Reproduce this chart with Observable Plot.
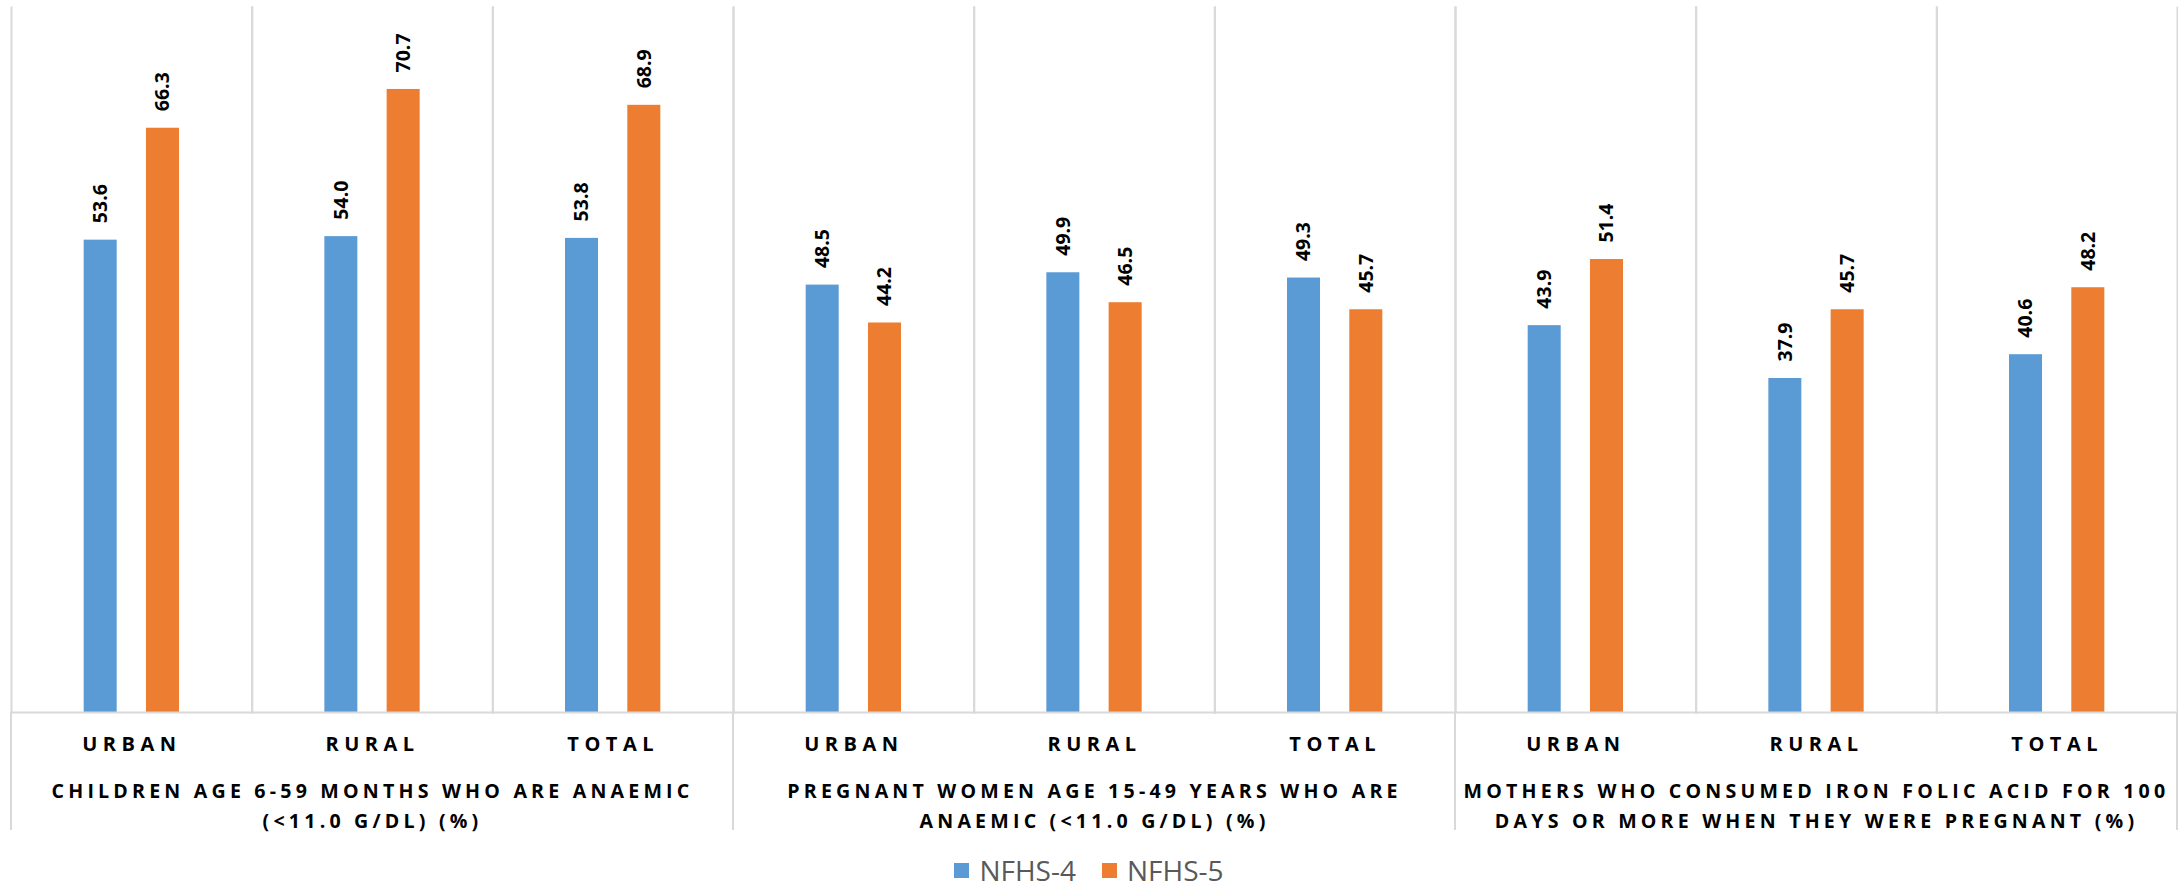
<!DOCTYPE html>
<html>
<head>
<meta charset="utf-8">
<script src="https://cdn.jsdelivr.net/npm/d3@7"></script>
<script src="https://cdn.jsdelivr.net/npm/@observablehq/plot@0.6"></script>
<style>
  html, body { margin: 0; padding: 0; background: #fff; overflow: hidden; }
  #chart { position: relative; width: 2178px; height: 883px; font-family: "Open Sans", sans-serif; }
  .legend-box {
    position: absolute; left: 0; top: 857px; width: 2178px; height: 26px;
    display: flex; justify-content: center; align-items: center;
    font-family: "Open Sans", sans-serif; font-size: 28px; line-height: 26px; color: #595959;
  }
  .legend-item { display: inline-flex; align-items: center; margin-right: 26px; height: 26px; }
  .legend-item:last-child { margin-right: 0; }
  .legend-swatch { width: 15px; height: 15px; margin-right: 10px; display: inline-block; }
</style>
</head>
<body>
<div id="chart"></div>
<script>
// Indicators (each split into urban / rural / total), NFHS-4 vs NFHS-5
const indicators = [
  "CHILDREN AGE 6-59 MONTHS WHO ARE ANAEMIC\n(<11.0 G/DL) (%)",
  "PREGNANT WOMEN AGE 15-49 YEARS WHO ARE\nANAEMIC (<11.0 G/DL) (%)",
  "MOTHERS WHO CONSUMED IRON FOLIC ACID FOR 100\nDAYS OR MORE WHEN THEY WERE PREGNANT (%)"
];
const places = ["URBAN", "RURAL", "TOTAL"];
const series = ["NFHS-4", "NFHS-5"];
const nfhs4 = [53.6, 54.0, 53.8, 48.5, 49.9, 49.3, 43.9, 37.9, 40.6];
const nfhs5 = [66.3, 70.7, 68.9, 44.2, 46.5, 45.7, 51.4, 45.7, 48.2];
const colors = ["#5B9BD5", "#ED7D31"];

// One facet per indicator × place
const cells = [];
indicators.forEach((ind, i) => places.forEach((p, j) => cells.push({key: `${i}|${p}`, indicator: i, place: p})));
const keys = cells.map(c => c.key);

const rows = [];
cells.forEach((c, k) => {
  rows.push({key: c.key, series: series[0], value: nfhs4[k]});
  rows.push({key: c.key, series: series[1], value: nfhs5[k]});
});

// Indicator titles sit under the middle place of each group
const titles = indicators.map((label, i) => ({key: `${i}|${places[1]}`, label}));

const grid = "#d9d9d9";
const placeSpacing = 5.5;
const titleSpacing = 4.2;

const plot = Plot.plot({
  width: 2178,
  height: 855,
  marginTop: 7,
  marginBottom: 143,
  marginLeft: 11,
  marginRight: 1,
  style: {fontFamily: "'Open Sans', sans-serif", color: "#000"},
  fx: {domain: keys, padding: 0, round: false, axis: null},
  x: {domain: series, paddingInner: 0.47, paddingOuter: 1.1666, round: false, axis: null},
  y: {domain: [0, 80], axis: null},
  color: {domain: series, range: colors},
  marks: [
    Plot.frame({anchor: "left", stroke: grid, strokeWidth: 2}),
    Plot.frame({anchor: "right", stroke: grid, strokeWidth: 2}),
    Plot.barY(rows, {fx: "key", x: "series", y: "value", fill: "series"}),
    Plot.frame({anchor: "bottom", stroke: grid, strokeWidth: 2}),
    Plot.text(rows, {
      fx: "key", x: "series", y: "value",
      text: d => d.value.toFixed(1),
      rotate: -90, textAnchor: "start", dy: -17,
      fontSize: 19.5, fontWeight: "bold", fill: "#000"
    }),
    Plot.text(cells, {
      fx: "key", text: "place", frameAnchor: "bottom", lineAnchor: "top",
      dy: 24, fontSize: 20, fontWeight: "bold", fill: "#000"
    }),
    Plot.text(titles, {
      fx: "key", text: "label", frameAnchor: "bottom", lineAnchor: "top",
      dy: 64, lineHeight: 1.55, fontSize: 19.6, fontWeight: "bold", fill: "#000"
    })
  ]
});

// Spaced-out capitals for the place and indicator labels
const firstLines = indicators.map(s => s.split("\n")[0]);
d3.select(plot).selectAll("text").each(function () {
  const t = this.textContent;
  if (places.includes(t)) this.style.letterSpacing = `${placeSpacing}px`;
  else if (firstLines.some(f => t.startsWith(f))) this.style.letterSpacing = `${titleSpacing}px`;
});

// Indicator dividers run down through the label area
const fx = plot.scale("fx");
const y = plot.scale("y");
const edges = indicators.map((_, i) => fx.apply(`${i}|${places[0]}`));
edges.push(fx.apply(keys[keys.length - 1]) + fx.bandwidth);
d3.select(plot).append("g").attr("aria-label", "dividers")
  .selectAll("line").data(edges).join("line")
  .attr("x1", d => d).attr("x2", d => d)
  .attr("y1", y.apply(0)).attr("y2", 830)
  .attr("stroke", grid).attr("stroke-width", 2);

// Series legend, centred below the chart, coloured by the plot's color scale
const color = plot.scale("color");
const root = document.getElementById("chart");
const box = d3.create("div").attr("class", "legend-box");
const items = box.selectAll("span.legend-item").data(series).join("span").attr("class", "legend-item");
items.append("span").attr("class", "legend-swatch").style("background", d => color.apply(d));
items.append("span").text(d => d);
root.append(plot, box.node());
</script>
</body>
</html>
